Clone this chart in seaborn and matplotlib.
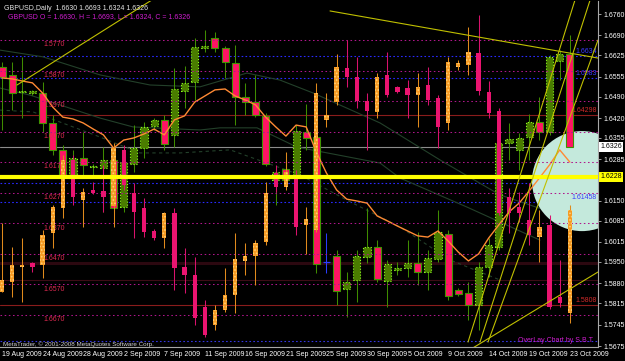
import matplotlib
matplotlib.use("Agg")
import matplotlib.pyplot as plt
import matplotlib.transforms as mtransforms
from matplotlib.patches import Ellipse
import numpy as np
import pandas as pd
import seaborn as sns

# ---------------- data ----------------
bar_dates = pd.to_datetime([
    "2009-08-19", "2009-08-20", "2009-08-21", "2009-08-23", "2009-08-24", "2009-08-25", "2009-08-26",
    "2009-08-27", "2009-08-28", "2009-08-30", "2009-08-31",
    "2009-09-01", "2009-09-02", "2009-09-03", "2009-09-04", "2009-09-06", "2009-09-07", "2009-09-08",
    "2009-09-09", "2009-09-10", "2009-09-11", "2009-09-13", "2009-09-14", "2009-09-15", "2009-09-16",
    "2009-09-17", "2009-09-18", "2009-09-20", "2009-09-21", "2009-09-22", "2009-09-23", "2009-09-24",
    "2009-09-25", "2009-09-27", "2009-09-28", "2009-09-29", "2009-09-30",
    "2009-10-01", "2009-10-02", "2009-10-04", "2009-10-05", "2009-10-06", "2009-10-07", "2009-10-08",
    "2009-10-09", "2009-10-11", "2009-10-12", "2009-10-13", "2009-10-14", "2009-10-15", "2009-10-16",
    "2009-10-18", "2009-10-19", "2009-10-20", "2009-10-21", "2009-10-22", "2009-10-23"])

main_open = [1.6587, 1.6561, 1.6505, 1.6502, 1.6502, 1.6404, 1.6316, 1.6224, 1.6289, 1.6260,
             1.6257, 1.6283, 1.6129, 1.6270, 1.6322, 1.6394, 1.6414, 1.6365, 1.6508, 1.6538,
             1.6649, 1.6682, 1.6649, 1.6600, 1.6489, 1.6472, 1.6427, 1.6218, 1.6253, 1.6227,
             1.6374, 1.6358, 1.5950, 1.5969, 1.5861, 1.5891, 1.5966, 1.5999, 1.5887, 1.5923,
             1.5930, 1.5946, 1.5917, 1.5959, 1.6041, 1.5858, 1.5848, 1.5809, 1.5933, 1.5999,
             1.6338, 1.6316, 1.6358, 1.6407, 1.6374, 1.6606, 1.6630]
main_high = [1.6603, 1.6603, 1.6620, 1.6512, 1.6538, 1.6430, 1.6332, 1.6316, 1.6374, 1.6270,
             1.6325, 1.6316, 1.6299, 1.6397, 1.6407, 1.6420, 1.6430, 1.6584, 1.6590, 1.6682,
             1.6708, 1.6701, 1.6655, 1.6659, 1.6535, 1.6561, 1.6437, 1.6260, 1.6283, 1.6397,
             1.6466, 1.6381, 1.6044, 1.5989, 1.5917, 1.5989, 1.6126, 1.6021, 1.5956, 1.5950,
             1.6021, 1.6048, 1.5989, 1.6120, 1.6054, 1.5865, 1.5884, 1.5950, 1.6028, 1.6355,
             1.6404, 1.6371, 1.6433, 1.6489, 1.6626, 1.6642, 1.6693]
main_low = [1.6381, 1.6446, 1.6420, 1.6495, 1.6374, 1.6299, 1.6218, 1.6201, 1.6224, 1.6231,
            1.6113, 1.6113, 1.6113, 1.6244, 1.6289, 1.6381, 1.6316, 1.6325, 1.6453, 1.6479,
            1.6636, 1.6636, 1.6551, 1.6397, 1.6430, 1.6423, 1.6263, 1.6136, 1.6201, 1.6218,
            1.6316, 1.5914, 1.5914, 1.5809, 1.5770, 1.5819, 1.5946, 1.5884, 1.5803, 1.5907,
            1.5901, 1.5874, 1.5858, 1.5950, 1.5825, 1.5838, 1.5760, 1.5727, 1.5901, 1.5989,
            1.6283, 1.6250, 1.6283, 1.6348, 1.6365, 1.6544, 1.6324]
main_close = [1.6554, 1.6502, 1.6508, 1.6507, 1.6404, 1.6316, 1.6234, 1.6289, 1.6267, 1.6262,
              1.6283, 1.6126, 1.6276, 1.6322, 1.6391, 1.6414, 1.6335, 1.6515, 1.6535, 1.6652,
              1.6655, 1.6649, 1.6603, 1.6489, 1.6472, 1.6430, 1.6270, 1.6244, 1.6218, 1.6378,
              1.6355, 1.5943, 1.5950, 1.5855, 1.5884, 1.5969, 1.5999, 1.5894, 1.5943, 1.5930,
              1.5946, 1.5917, 1.5963, 1.6048, 1.5838, 1.5845, 1.5809, 1.5933, 1.6005, 1.6338,
              1.6352, 1.6355, 1.6407, 1.6374, 1.6620, 1.6629, 1.6326]

# overlay symbol (drawn on an inverted scale)
ov_open = [1.6555, 1.6506, 1.6506, 1.6513, 1.6408, 1.6316, 1.6163, 1.6284, 1.6267, 1.6271,
           1.6284, 1.6123, 1.6244, 1.6333, 1.6398, 1.6418, 1.6336, 1.6516, 1.6539, 1.6680,
           1.6735, 1.6653, 1.6604, 1.6487, 1.6477, 1.6434, 1.6271, 1.6251, 1.6202, 1.6382,
           1.6356, 1.5943, 1.6015, 1.5858, 1.5891, 1.5970, 1.6002, 1.5891, 1.5950, 1.5940,
           1.5950, 1.5924, 1.5966, 1.6055, 1.5842, 1.5845, 1.5809, 1.5937, 1.6009, 1.6336,
           1.6336, 1.6336, 1.6408, 1.6382, 1.6644, 1.6631, 1.6326]
ov_high = [1.6595, 1.6611, 1.6627, 1.6529, 1.6549, 1.6451, 1.6352, 1.6310, 1.6382, 1.6274,
           1.6333, 1.6382, 1.6261, 1.6418, 1.6415, 1.6424, 1.6451, 1.6588, 1.6598, 1.6702,
           1.6742, 1.6719, 1.6660, 1.6663, 1.6539, 1.6572, 1.6441, 1.6267, 1.6261, 1.6408,
           1.6470, 1.6398, 1.6055, 1.5983, 1.5924, 1.5992, 1.6130, 1.6025, 1.5956, 1.5943,
           1.6025, 1.6055, 1.5983, 1.6123, 1.6064, 1.5868, 1.5885, 1.5950, 1.6025, 1.6343,
           1.6401, 1.6365, 1.6441, 1.6496, 1.6650, 1.6644, 1.6696]
ov_low = [1.6369, 1.6447, 1.6418, 1.6496, 1.6392, 1.6310, 1.6146, 1.6146, 1.6254, 1.6235,
          1.6179, 1.6107, 1.6114, 1.6238, 1.6287, 1.6388, 1.6333, 1.6320, 1.6451, 1.6480,
          1.6621, 1.6637, 1.6516, 1.6401, 1.6434, 1.6424, 1.6235, 1.6179, 1.6136, 1.6195,
          1.6316, 1.5911, 1.5943, 1.5816, 1.5770, 1.5826, 1.5943, 1.5878, 1.5809, 1.5920,
          1.5901, 1.5878, 1.5858, 1.5950, 1.5826, 1.5835, 1.5727, 1.5688, 1.5904, 1.5992,
          1.6254, 1.6267, 1.6238, 1.6326, 1.6343, 1.6490, 1.6310]
ov_close = [1.6595, 1.6562, 1.6513, 1.6500, 1.6506, 1.6401, 1.6320, 1.6163, 1.6294, 1.6261,
            1.6264, 1.6313, 1.6130, 1.6271, 1.6320, 1.6395, 1.6418, 1.6336, 1.6513, 1.6539,
            1.6644, 1.6702, 1.6653, 1.6604, 1.6493, 1.6477, 1.6431, 1.6205, 1.6251, 1.6222,
            1.6375, 1.6392, 1.6032, 1.5973, 1.5862, 1.5891, 1.5970, 1.6006, 1.5885, 1.5924,
            1.5927, 1.5950, 1.5917, 1.5960, 1.6042, 1.5858, 1.5852, 1.5813, 1.5940, 1.6002,
            1.6284, 1.6316, 1.6359, 1.6415, 1.6375, 1.6611, 1.6663]

ma_values = [1.6551, 1.6548, 1.6541, 1.6535, 1.6502, 1.6456, 1.6423, 1.6417, 1.6404, 1.6384,
             1.6365, 1.6322, 1.6348, 1.6355, 1.6368, 1.6384, 1.6365, 1.6414, 1.6427, 1.6472,
             1.6492, 1.6512, 1.6515, 1.6492, 1.6479, 1.6463, 1.6423, 1.6391, 1.6361, 1.6397,
             1.6391, 1.6309, 1.6240, 1.6185, 1.6155, 1.6149, 1.6142, 1.6100, 1.6084, 1.6067,
             1.6051, 1.6035, 1.6031, 1.6051, 1.6018, 1.5982, 1.5953, 1.5976, 1.6028, 1.6071,
             1.6113, 1.6142, 1.6182, 1.6224, 1.6267, 1.6316, 1.6276]

# slower averages (dim lines): sampled (bar, price) points
slow_a_bar = [-0.2, 2.76, 9.66, 12.92, 19.53, 21.5, 25.15, 29.09, 37.28, 39.25, 45.86, 53.06]
slow_a_val = [1.6518, 1.6495, 1.6420, 1.6391, 1.6381, 1.6388, 1.6388, 1.6325, 1.6273, 1.6224, 1.6129, 1.6021]
slow_b_bar = [-0.2, 4.04, 9.66, 14.6, 19.53, 24.16, 27.42, 30.67, 37.28, 43.2, 49.1, 55.0]
slow_b_val = [1.6642, 1.6620, 1.6561, 1.6528, 1.6522, 1.6567, 1.6544, 1.6502, 1.6404, 1.6283, 1.6169, 1.6103]
slow_c_bar = [-0.2, 3.06, 9.66, 13.6, 17.55, 22.5, 29.4, 34.0, 39.25, 44.2, 49.1]
slow_c_val = [1.6446, 1.6440, 1.6358, 1.6306, 1.6306, 1.6316, 1.6234, 1.6152, 1.6064, 1.5956, 1.5891]

price_ticks = [1.6760, 1.6690, 1.6625, 1.6555, 1.6490, 1.6420, 1.6355, 1.6285,
               1.6150, 1.6085, 1.6015, 1.5950, 1.5880, 1.5815, 1.5745, 1.5675]
overlay_levels = [1.5770, 1.5870, 1.5970, 1.6070, 1.6170, 1.6270, 1.6370, 1.6470, 1.6570, 1.6670]
blue_levels = [1.6623, 1.6551, 1.6208, 1.6146]
blue_names = ["1.6634", "1.6583", "", "1.61458"]
red_levels = [1.6430, 1.5809]
red_names = ["1.64298", "1.5808"]
faint_levels = [1.5946, 1.5891]
bottom_level = 1.5691
bid_price = 1.6326
yellow_level = 1.6228
header = "GBPUSD,Daily  1.6630 1.6693 1.6324 1.6326"
ohlc_text = "GBPUSD O = 1.6630, H = 1.6693, L = 1.6324, C = 1.6326"

# trend lines: (bar, price) -> (bar, price)
trend_lines = [((1.48, 1.6528), (14.79, 1.6806)),
               ((32.35, 1.6770), (58.78, 1.6616)),
               ((45.96, 1.5688), (56.51, 1.6806)),
               ((47.14, 1.5688), (58.00, 1.6806)),
               ((47.93, 1.5688), (58.78, 1.6675)),
               ((46.45, 1.5669), (58.78, 1.5917))]
circle_center = (57.2, 1.6214)
circle_size = (9.86, 0.0327)

# ---------------- style ----------------
sns.set_theme(style="dark")
plt.rcParams['font.family'] = ['Liberation Sans', 'DejaVu Sans']
plt.rcParams['hatch.linewidth'] = 0.8
FS = 5.0

W, H = 625, 361
fig = plt.figure(figsize=(W / 100, H / 100), dpi=100, facecolor='black')
ax = fig.add_axes([0, 14 / H, 598 / W, 346 / H])
ax.set_facecolor('black')
ax.set_xlim(-0.197, 58.777)
ax.set_ylim(1.56718, 1.68025)
ax2 = ax.twinx()
ax2.set_ylim(1.67745, 1.56424)
ax2.set_yticks([])
for s in ax2.spines.values():
    s.set_visible(False)

x = np.arange(len(main_open))
o = np.array(main_open); h = np.array(main_high); l = np.array(main_low); c = np.array(main_close)
oo = np.array(ov_open); oh = np.array(ov_high); ol = np.array(ov_low); oc = np.array(ov_close)

# horizontal levels
for lv in overlay_levels:
    ax2.axhline(lv, color='#b0168c', lw=0.75, ls=(0, (1.5, 2.5)), zorder=1)
    ax2.text(4.05, lv + 0.0004, f"{lv:.4f}", color='#e02a52', fontsize=FS,
             va='top', ha='left', zorder=1)
for lv in blue_levels:
    ax.axhline(lv, color='#2a2aff', lw=0.8, ls=(0, (1.5, 2.0)), zorder=1)
for lv in red_levels:
    ax.axhline(lv, color='#8a1c1c', lw=0.8, zorder=1)
ax.axhline(faint_levels[0], color='#2c0810', lw=2.2, zorder=0.5)
ax.axhline(faint_levels[1], color='#3c0c16', lw=0.8, zorder=0.5)
ax.axhline(bottom_level, color='#3434e0', lw=0.8, ls=(0, (1.5, 2.0)), zorder=1)
ax.axhline(bid_price, color='#8c8c8c', lw=0.8, zorder=1)

# slow averages
sns.lineplot(x=slow_a_bar, y=slow_a_val, ax=ax, color='#23402a', lw=0.8, zorder=1.5)
sns.lineplot(x=slow_b_bar, y=slow_b_val, ax=ax, color='#23402a', lw=0.8, zorder=1.5)
ax.plot(slow_c_bar, slow_c_val, color='#23402a', lw=0.8, ls=(0, (3, 3)), zorder=1.5)

# circle
ax.add_patch(Ellipse(circle_center, circle_size[0], circle_size[1], fc='#c4e9dc', ec='none', zorder=2))

# main candles
bull = c > o
bear = c < o
doji = c == o
wick_col = np.where(doji, '#2a3cff', '#3f8c00')
ax.vlines(x, l, h, colors=list(wick_col), lw=0.75, zorder=3)
bw = 0.7
ax.bar(x[bull], (c - o)[bull], bottom=o[bull], width=bw, color='#4a7c00',
       edgecolor='#8cff1c', lw=0.8, ls=':', zorder=4)
ax.bar(x[bear], (o - c)[bear], bottom=c[bear], width=bw, color='#ff1464',
       edgecolor='#3f9400', lw=0.8, zorder=4)
ax.hlines(o[doji], x[doji] - 0.35, x[doji] + 0.35, colors='#2a3cff', lw=0.9, zorder=4)

# overlay candles
ob = oc >= oo
od = oc < oo
ax2.vlines(x[ob], ol[ob], oh[ob], colors='#e08a1c', lw=0.75, zorder=5)
ax2.vlines(x[od], ol[od], oh[od], colors='#d8126c', lw=0.75, zorder=5)
ow = 0.42
ax2.bar(x[ob], np.maximum((oc - oo)[ob], 0.0003), bottom=oo[ob], width=ow, color='#f59a23',
        edgecolor='#ffd27a', lw=0, hatch='.....', zorder=6)
ax2.bar(x[od], np.maximum((oo - oc)[od], 0.0003), bottom=oc[od], width=ow, color='#ea1470',
        lw=0, zorder=6)

# moving average
sns.lineplot(x=x, y=ma_values, ax=ax, color='#ff8a34', lw=1.0, zorder=7)

# yellow level and trend lines (drawn on top)
ax2.plot([-1, 60], [yellow_level, yellow_level], color='#ffff00', lw=3.0,
         transform=ax.transData, zorder=8, solid_capstyle='butt')
for (x0, y0), (x1, y1) in trend_lines:
    ax2.plot([x0, x1], [y0, y1], color='#c0c000', lw=0.8, transform=ax.transData, zorder=9)

# axes styling
ax.yaxis.tick_right()
ax.set_yticks(price_ticks)
ax.set_yticklabels([f"{p:.4f}" for p in price_ticks])
ax.tick_params(axis='y', colors='#a0a0a0', labelcolor='white', labelsize=FS,
               length=2.2, width=0.7, pad=1.5, direction='out')
tick_idx = list(range(0, len(bar_dates), 4))
ax.set_xticks(tick_idx)
ax.set_xticklabels([f"{bar_dates[i].day} {bar_dates[i].strftime('%b %Y')}" for i in tick_idx])
for lab in ax.get_xticklabels():
    lab.set_horizontalalignment('left')
ax.tick_params(axis='x', colors='#a0a0a0', labelcolor='white', labelsize=FS,
               length=2.2, width=0.7, pad=1.0, direction='out')
for side in ['top', 'left']:
    ax.spines[side].set_visible(False)
for side in ['right', 'bottom']:
    ax.spines[side].set_color('#a8a8a8')
    ax.spines[side].set_linewidth(0.8)
ax.grid(False)
ax.set_xlabel('')
ax.set_ylabel('')

blend = mtransforms.blended_transform_factory(ax.transAxes, ax.transData)
ax.text(1.004, bid_price, f"{bid_price:.4f}", transform=blend, fontsize=FS, color='black',
        ha='left', va='center', zorder=20, clip_on=False,
        bbox=dict(boxstyle='square,pad=0.2', fc='white', ec='none'))
ax.text(1.004, yellow_level, f"{yellow_level:.4f}", transform=blend, fontsize=FS, color='black',
        ha='left', va='center', zorder=20, clip_on=False,
        bbox=dict(boxstyle='square,pad=0.2', fc='#ffff00', ec='none'))
for lv, nm in zip(blue_levels, blue_names):
    if nm:
        ax.text(0.998, lv + 0.0003, nm, transform=blend, fontsize=FS, color='#3a3aff',
                ha='right', va='bottom', zorder=10)
for lv, nm in zip(red_levels, red_names):
    ax.text(0.998, lv + 0.0003, nm, transform=blend, fontsize=FS, color='#d02a2a',
            ha='right', va='bottom', zorder=10)

fig.text(4 / W, 1 - 8 / H, header, color='#e8e8e8', fontsize=FS, va='center', ha='left')
fig.text(8 / W, 1 - 17 / H, ohlc_text, color='#d01ed0', fontsize=FS, va='center', ha='left')
fig.text(3 / W, 1 - 344 / H, "MetaTrader, \u00a9 2001-2008 MetaQuotes Software Corp.",
         color='#d0d0d0', fontsize=4.5, va='center', ha='left')
fig.text(593 / W, 1 - 341 / H, "OverLay Chart by S.B.T", color='#d01ed0', fontsize=FS,
         va='center', ha='right')

fig.savefig('out.png', dpi=100, facecolor='black')
